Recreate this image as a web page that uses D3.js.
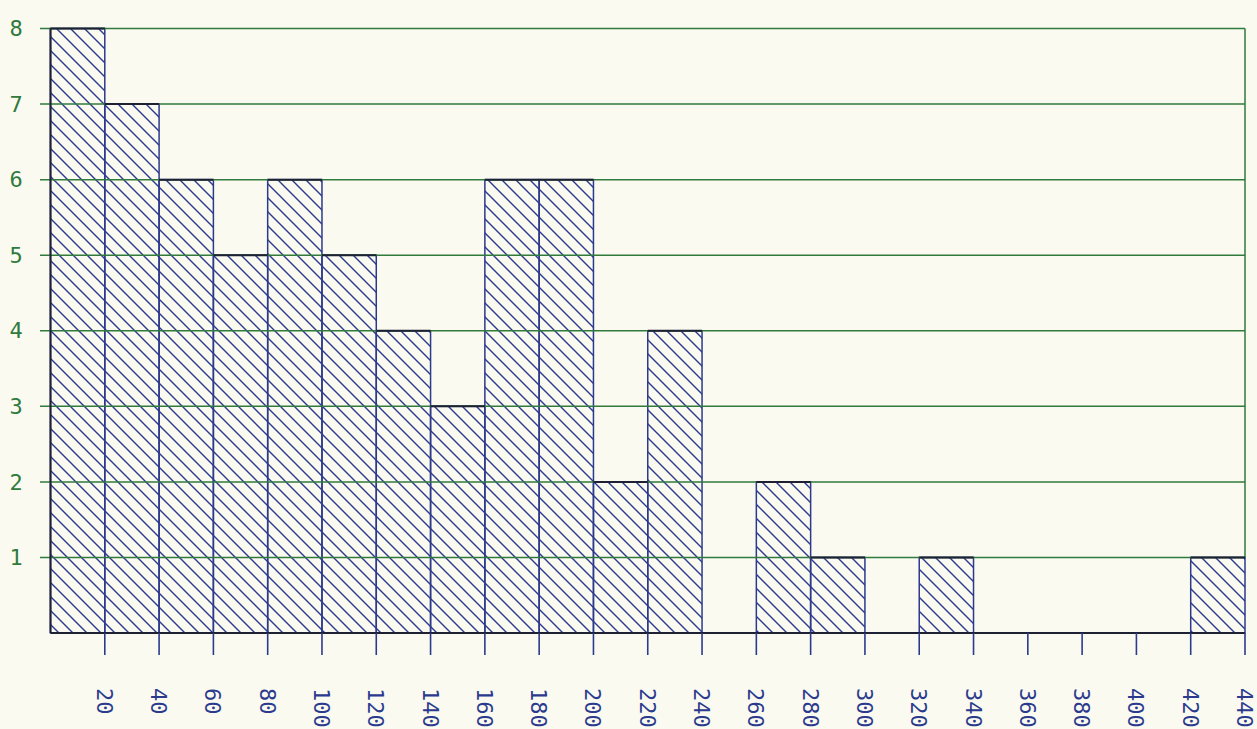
<!DOCTYPE html>
<html lang="en">
<head>
    <meta charset="UTF-8">
    <title>Histogram</title>
    <script src="https://d3js.org/d3.v7.min.js"></script>
    <style>
        body { margin: 0; background: #fafaf1; }
        svg { display: block; }
    </style>
</head>
<body>
    <div id="chart"></div>
    <script>
        // bin edges (upper bound of each 20-wide bin) and counts
        const binEnds = [20, 40, 60, 80, 100, 120, 140, 160, 180, 200, 220,
                         240, 260, 280, 300, 320, 340, 360, 380, 400, 420, 440];
        const counts = [8, 7, 6, 5, 6, 5, 4, 3, 6, 6, 2,
                        4, 0, 2, 1, 0, 1, 0, 0, 0, 0, 1];
        const yTicks = [1, 2, 3, 4, 5, 6, 7, 8];
        const xTicks = binEnds;

        const width = 1257;
        const height = 729;
        const blue = "#2c3a8e";
        const green = "#2f7a3c";
        const dark = "#1e2133";

        const x = d3.scaleLinear().domain([0, 440]).range([50.5, 1245]);
        const y = d3.scaleLinear().domain([0, 8]).range([633, 28.5]);

        const svg = d3.select("#chart")
            .append("svg")
            .attr("width", width)
            .attr("height", height);

        svg.append("rect")
            .attr("width", width)
            .attr("height", height)
            .attr("fill", "#fafaf1");

        // diagonal hatch, one line per 14px tile
        const t = 14;
        const pattern = svg.append("defs")
            .append("pattern")
            .attr("id", "hatch")
            .attr("patternUnits", "userSpaceOnUse")
            .attr("width", t)
            .attr("height", t);
        pattern.append("path")
            .attr("d", `M-3,-3 L${t + 3},${t + 3} M${-t - 3},-3 L3,${t + 3} M${t - 3},-3 L${2 * t + 3},${t + 3}`)
            .attr("stroke", blue)
            .attr("stroke-width", 1.4)
            .attr("fill", "none");

        const bins = counts.map((c, i) => ({ x0: binEnds[i] - 20, x1: binEnds[i], n: c }));

        // bars
        svg.append("g")
            .selectAll("rect")
            .data(bins.filter(d => d.n > 0))
            .join("rect")
            .attr("x", d => x(d.x0))
            .attr("y", d => y(d.n))
            .attr("width", d => x(d.x1) - x(d.x0))
            .attr("height", d => y(0) - y(d.n))
            .attr("fill", "url(#hatch)")
            .attr("stroke", blue)
            .attr("stroke-width", 1.5);

        // horizontal grid lines
        svg.append("g")
            .selectAll("line")
            .data(yTicks)
            .join("line")
            .attr("x1", 40)
            .attr("x2", x(440))
            .attr("y1", d => y(d))
            .attr("y2", d => y(d))
            .attr("stroke", green)
            .attr("stroke-width", 1.5);

        // right border
        svg.append("line")
            .attr("x1", x(440)).attr("x2", x(440))
            .attr("y1", y(8)).attr("y2", y(1))
            .attr("stroke", green)
            .attr("stroke-width", 1.5);

        // bar tops drawn dark over the grid
        svg.append("g")
            .selectAll("line")
            .data(bins.filter(d => d.n > 0))
            .join("line")
            .attr("x1", d => x(d.x0))
            .attr("x2", d => x(d.x1))
            .attr("y1", d => y(d.n))
            .attr("y2", d => y(d.n))
            .attr("stroke", dark)
            .attr("stroke-width", 2);

        // left edge and baseline
        svg.append("line")
            .attr("x1", x(0)).attr("x2", x(0))
            .attr("y1", y(8)).attr("y2", y(0))
            .attr("stroke", dark)
            .attr("stroke-width", 2);
        svg.append("line")
            .attr("x1", x(0)).attr("x2", x(440))
            .attr("y1", y(0)).attr("y2", y(0))
            .attr("stroke", dark)
            .attr("stroke-width", 2.2);

        // x ticks and labels
        const xAxis = svg.append("g");
        xAxis.selectAll("line")
            .data(xTicks)
            .join("line")
            .attr("x1", d => x(d))
            .attr("x2", d => x(d))
            .attr("y1", y(0))
            .attr("y2", y(0) + 22)
            .attr("stroke", blue)
            .attr("stroke-width", 1.6);
        xAxis.selectAll("text")
            .data(xTicks)
            .join("text")
            .attr("transform", d => `translate(${x(d) - 8},688) rotate(90)`)
            .attr("fill", blue)
            .style("font", "22px 'DejaVu Sans Mono', monospace")
            .text(d => d);

        // y labels
        svg.append("g")
            .selectAll("text")
            .data(yTicks)
            .join("text")
            .attr("x", 16)
            .attr("y", d => y(d))
            .attr("dy", "0.35em")
            .attr("text-anchor", "middle")
            .attr("fill", green)
            .style("font", "22px 'DejaVu Sans Mono', monospace")
            .text(d => d);
    </script>
</body>
</html>
